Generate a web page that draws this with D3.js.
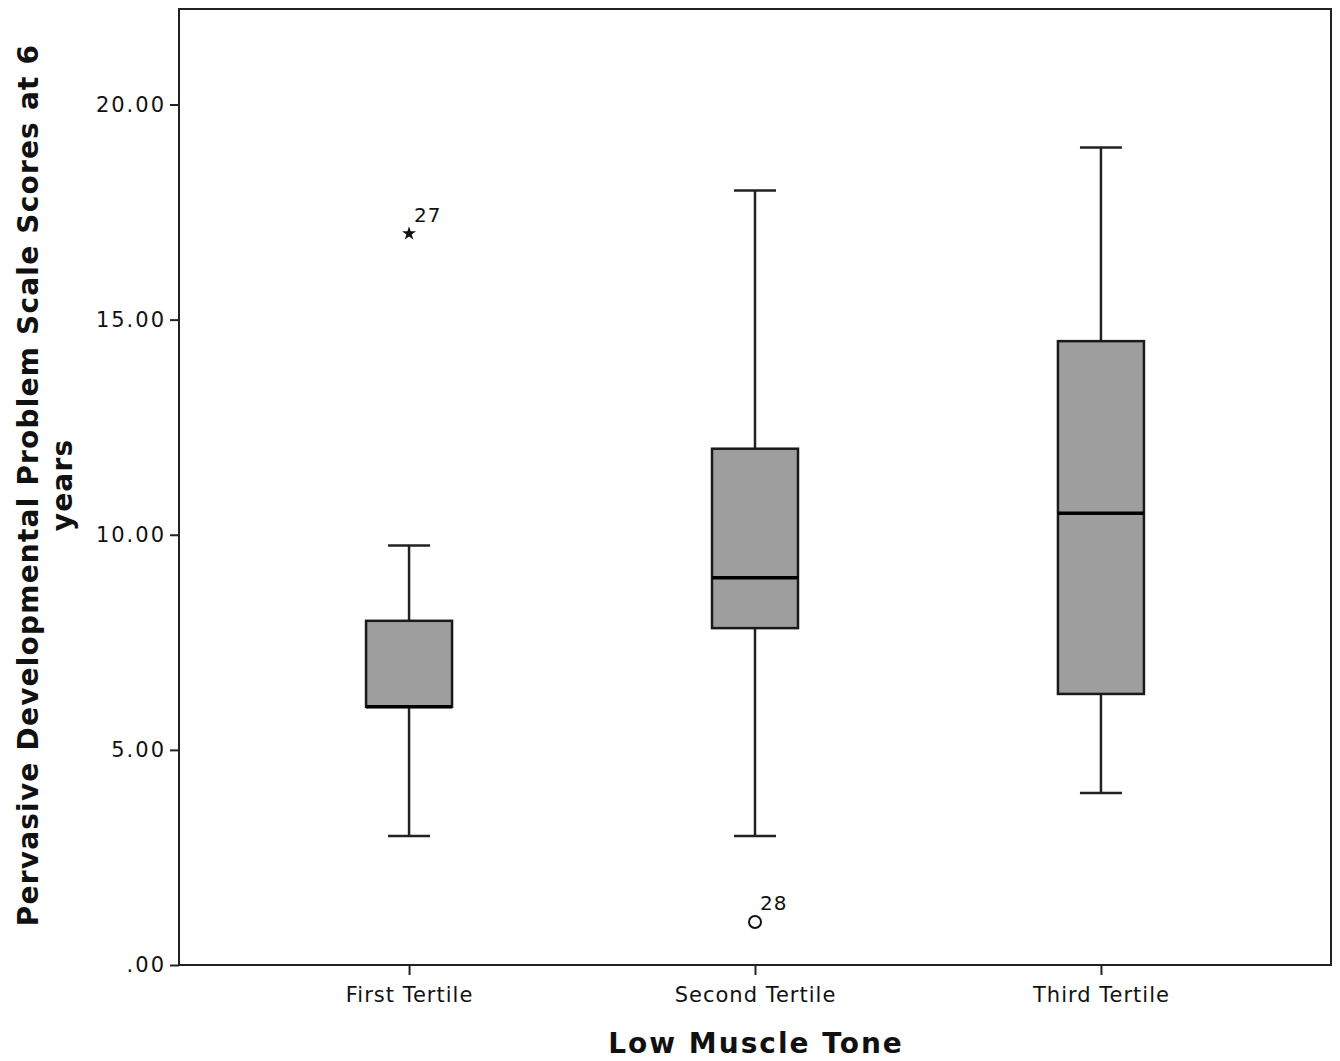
<!DOCTYPE html>
<html>
<head>
<meta charset="utf-8">
<script src="https://cdn.jsdelivr.net/npm/d3@7"></script>
<style>
  body { margin: 0; background: #fff; }
  svg text { font-family: "DejaVu Sans", "Open Sans", sans-serif; fill: #111; }
</style>
</head>
<body>
<div id="chart"></div>
<script>
// Data
const categories = ["First Tertile", "Second Tertile", "Third Tertile"];
const whiskerLow = [3, 3, 4];
const q1 = [6, 7.83, 6.3];
const median = [6, 9, 10.5];
const q3 = [8, 12, 14.5];
const whiskerHigh = [9.75, 18, 19];
const outliers = [
  { cat: "First Tertile", value: 17, label: "27", kind: "extreme" },
  { cat: "Second Tertile", value: 1, label: "28", kind: "outlier" }
];
const yTicks = [0, 5, 10, 15, 20];

const width = 1340, height = 1061;
const plotLeft = 179, plotRight = 1331, plotTop = 9, plotBottom = 965;

const svg = d3.select("#chart").append("svg")
  .attr("width", width).attr("height", height);

const x = d3.scalePoint(categories, [plotLeft, plotRight]).padding(0.665);
const y = d3.scaleLinear([0, 22.22], [plotBottom, plotTop]);

// frame
svg.append("rect")
  .attr("x", plotLeft).attr("y", plotTop)
  .attr("width", plotRight - plotLeft).attr("height", plotBottom - plotTop)
  .attr("fill", "none").attr("stroke", "#222").attr("stroke-width", 2);

// axes
const yAxis = svg.append("g")
  .attr("transform", `translate(${plotLeft},0)`)
  .call(d3.axisLeft(y).tickValues(yTicks).tickSize(9).tickPadding(4)
    .tickFormat(d => d === 0 ? ".00" : d3.format(".2f")(d)));
yAxis.select(".domain").remove();
yAxis.selectAll("line").attr("stroke", "#222").attr("stroke-width", 2);
yAxis.selectAll("text").style("font-size", "21px").style("letter-spacing", "2px").attr("fill", "#111");

const xAxis = svg.append("g")
  .attr("transform", `translate(0,${plotBottom})`)
  .call(d3.axisBottom(x).tickSize(10).tickPadding(12));
xAxis.select(".domain").remove();
xAxis.selectAll("line").attr("stroke", "#222").attr("stroke-width", 2);
xAxis.selectAll("text").style("font-size", "21px").style("letter-spacing", "1px").attr("fill", "#111");

// boxes
const boxW = 86, capW = 42;
const stats = categories.map((c, i) => ({
  cat: c, lo: whiskerLow[i], q1: q1[i], med: median[i], q3: q3[i], hi: whiskerHigh[i]
}));

const g = svg.append("g").selectAll("g").data(stats).join("g")
  .attr("transform", d => `translate(${x(d.cat)},0)`);

g.append("line").attr("y1", d => y(d.hi)).attr("y2", d => y(d.q3))
  .attr("stroke", "#222").attr("stroke-width", 2.5);
g.append("line").attr("y1", d => y(d.q1)).attr("y2", d => y(d.lo))
  .attr("stroke", "#222").attr("stroke-width", 2.5);
g.append("line").attr("x1", -capW / 2).attr("x2", capW / 2)
  .attr("y1", d => y(d.hi)).attr("y2", d => y(d.hi))
  .attr("stroke", "#222").attr("stroke-width", 2.5);
g.append("line").attr("x1", -capW / 2).attr("x2", capW / 2)
  .attr("y1", d => y(d.lo)).attr("y2", d => y(d.lo))
  .attr("stroke", "#222").attr("stroke-width", 2.5);
g.append("rect")
  .attr("x", -boxW / 2).attr("width", boxW)
  .attr("y", d => y(d.q3)).attr("height", d => y(d.q1) - y(d.q3))
  .attr("fill", "#9e9e9e").attr("stroke", "#1a1a1a").attr("stroke-width", 2.5);
g.append("line").attr("x1", -boxW / 2).attr("x2", boxW / 2)
  .attr("y1", d => y(d.med)).attr("y2", d => y(d.med))
  .attr("stroke", "#000").attr("stroke-width", 3.5);

// outliers
const o = svg.append("g").selectAll("g").data(outliers).join("g")
  .attr("transform", d => `translate(${x(d.cat)},${y(d.value)})`);
o.filter(d => d.kind === "outlier").append("circle")
  .attr("r", 6).attr("fill", "none").attr("stroke", "#111").attr("stroke-width", 2);
o.filter(d => d.kind === "extreme").append("path")
  .attr("d", d3.symbol(d3.symbolStar, 60)).attr("fill", "#111");
o.append("text").attr("x", 5).attr("y", -12)
  .style("font-size", "20px").style("letter-spacing", "1px").text(d => d.label);

// titles
svg.append("text")
  .attr("x", x(categories[1]) + 1).attr("y", 1053)
  .attr("text-anchor", "middle")
  .style("font-size", "28px").style("font-weight", "bold").style("letter-spacing", "2px")
  .text("Low Muscle Tone");

const yt = svg.append("text")
  .attr("transform", `translate(38,485) rotate(-90)`)
  .attr("text-anchor", "middle")
  .style("font-size", "28px").style("font-weight", "bold").style("letter-spacing", "1.2px");
yt.append("tspan").attr("x", 0).attr("dy", 0)
  .text("Pervasive Developmental Problem Scale Scores at 6");
yt.append("tspan").attr("x", 0).attr("dy", 34).text("years");
</script>
</body>
</html>
